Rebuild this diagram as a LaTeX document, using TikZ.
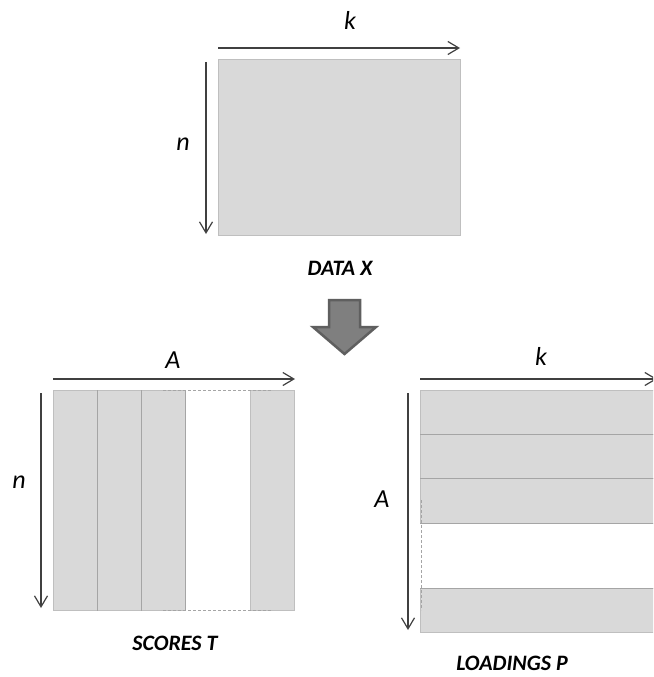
\documentclass[tikz,border=0pt]{standalone}
\usepackage{fontspec}
\setmainfont{Carlito}
\usetikzlibrary{arrows.meta}
\definecolor{cellfill}{HTML}{D9D9D9}
\definecolor{cellline}{HTML}{BFBFBF}
\definecolor{divline}{HTML}{A5A5A5}
\definecolor{arrline}{HTML}{404040}
\definecolor{bigfill}{HTML}{7F7F7F}
\definecolor{bigline}{HTML}{5F5F5F}
\tikzset{
  dimarrow/.style={draw=arrline, line width=1.3pt, -{Straight Barb[length=11pt,width=13pt,line width=1.2pt]}},
  dimlabel/.style={font=\fontsize{26}{28}\selectfont\itshape, text=black, inner sep=0pt},
  caption/.style={font=\fontsize{22}{24}\selectfont\bfseries\itshape, text=black, inner sep=0pt},
  cell/.style={fill=cellfill, draw=cellline, line width=0.8pt},
  divider/.style={draw=divline, line width=0.9pt},
  gapline/.style={draw=divline, line width=0.8pt, dash pattern=on 3pt off 2pt},
}
\begin{document}
\begin{tikzpicture}[x=1pt,y=-1pt]
\clip (0,0) rectangle (653,677);
\fill[white] (0,0) rectangle (653,677);

% ---------- DATA X ----------
\node[cell, anchor=north west, minimum width=242pt, minimum height=176pt, inner sep=0pt] (X) at (218,59) {};
\coordinate (xk0) at (218,48);
\coordinate (xk1) at (460,48);
\draw[dimarrow] (xk0) -- (xk1);
\node[dimlabel] (xklab) at (350,20) {k};
\coordinate (xn0) at (206,62);
\coordinate (xn1) at (206,234);
\draw[dimarrow] (xn0) -- (xn1);
\node[dimlabel] (xnlab) at (183,144) {n};
\node[caption] (xcap) at (340,268) {DATA X};

% ---------- big arrow ----------
\draw[fill=bigfill, draw=bigline, line width=2.5pt, line join=miter]
  (329,300) -- (360,300) -- (360,327) -- (376,327) -- (344.5,354) -- (313,327) -- (329,327) -- cycle;
\node[inner sep=0pt] (bigarrow) at (344.5,327) {};

% ---------- SCORES T ----------
\node[cell, anchor=north west, minimum width=44pt, minimum height=220pt, inner sep=0pt] (t1) at (53,390) {};
\node[cell, anchor=north west, minimum width=44pt, minimum height=220pt, inner sep=0pt] (t2) at (97,390) {};
\node[cell, anchor=north west, minimum width=44pt, minimum height=220pt, inner sep=0pt] (t3) at (141,390) {};
\node[cell, anchor=north west, minimum width=44pt, minimum height=220pt, inner sep=0pt] (t4) at (250,390) {};
\draw[divider] (t1.north east) -- (t1.south east);
\draw[divider] (t2.north east) -- (t2.south east);
\draw[divider] (t3.north east) -- (t3.south east);
\coordinate (tg0) at (163,390);
\coordinate (tg1) at (272,390);
\coordinate (tg2) at (163,610);
\coordinate (tg3) at (272,610);
\draw[gapline] (tg0) -- (tg1);
\draw[gapline] (tg2) -- (tg3);
\coordinate (ta0) at (53,379);
\coordinate (ta1) at (295,379);
\draw[dimarrow] (ta0) -- (ta1);
\node[dimlabel] (talab) at (173,360) {A};
\coordinate (tn0) at (41,393);
\coordinate (tn1) at (41,608);
\draw[dimarrow] (tn0) -- (tn1);
\node[dimlabel] (tnlab) at (19,482) {n};
\node[caption] (tcap) at (175,643) {SCORES T};

% ---------- LOADINGS P ----------
\node[cell, anchor=north west, minimum width=260pt, minimum height=44pt, inner sep=0pt] (p1) at (420,390) {};
\node[cell, anchor=north west, minimum width=260pt, minimum height=44pt, inner sep=0pt] (p2) at (420,434) {};
\node[cell, anchor=north west, minimum width=260pt, minimum height=44.5pt, inner sep=0pt] (p3) at (420,478) {};
\node[cell, anchor=north west, minimum width=260pt, minimum height=44pt, inner sep=0pt] (p4) at (420,588) {};
\draw[divider] (p1.south west) -- (p1.south east);
\draw[divider] (p2.south west) -- (p2.south east);
\draw[divider] (p3.south west) -- (p3.south east);
\draw[divider] (p4.north west) -- (p4.north east);
\coordinate (pg0) at (421,500);
\coordinate (pg1) at (421,610);
\draw[gapline] (pg0) -- (pg1);
\coordinate (pk0) at (420,379);
\coordinate (pk1) at (657,379);
\draw[dimarrow] (pk0) -- (pk1);
\node[dimlabel] (pklab) at (541,356) {k};
\coordinate (pa0) at (408,393);
\coordinate (pa1) at (408,630);
\draw[dimarrow] (pa0) -- (pa1);
\node[dimlabel] (palab) at (382,499) {A};
\node[caption] (pcap) at (512,663) {LOADINGS P};
\end{tikzpicture}
\end{document}
